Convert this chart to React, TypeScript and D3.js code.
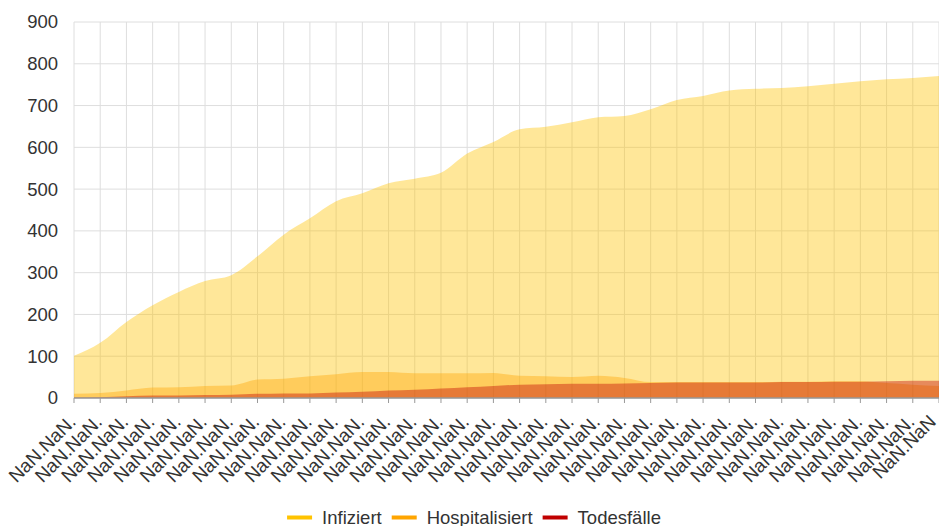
import React, { useEffect, useRef } from 'react';
import * as d3 from 'd3';

const width = 939;
const height = 526;

const infiziert = [101, 132, 182, 222, 254, 280, 294, 339, 391, 430, 471, 490, 514, 525, 539, 585, 613, 643, 649, 660, 672, 675, 691, 713, 723, 736, 740, 742, 746, 752, 758, 763, 766, 771];
const hospitalisiert = [10, 12, 18, 25, 26, 29, 30, 44, 46, 52, 57, 62, 62, 59, 59, 59, 60, 53, 52, 50, 53, 48, 38, 38, 38, 38, 38, 39, 39, 40, 40, 36, 32, 29];
const todesfaelle = [1, 2, 4, 6, 6, 7, 8, 10, 11, 11, 13, 15, 18, 20, 23, 26, 29, 32, 33, 34, 34, 35, 36, 37, 37, 37, 37, 38, 38, 39, 39, 40, 41, 41];
// the last label loses its trailing dot at the edge in the original
const dateLabels = infiziert.map((d, i) => (i === infiziert.length - 1 ? 'NaN.NaN' : 'NaN.NaN.'));
const yTicks = [0, 100, 200, 300, 400, 500, 600, 700, 800, 900];

const series = [
    { name: 'Infiziert', values: infiziert, color: '#ffc300' },
    { name: 'Hospitalisiert', values: hospitalisiert, color: '#ffa500' },
    { name: 'Todesfälle', values: todesfaelle, color: '#c00000' },
];

export default function App() {
    const ref = useRef<SVGSVGElement>(null);

    useEffect(() => {
        const svg = d3.select(ref.current);
        svg.selectAll('*').remove();

        const margin = { top: 22, right: 0, bottom: 128, left: 74 };
        const idx = d3.range(infiziert.length);

        const x = d3.scalePoint<number>()
            .domain(idx)
            .range([margin.left, width - margin.right]);
        const y = d3.scaleLinear()
            .domain([0, 900])
            .range([height - margin.bottom, margin.top]);

        const font = '"Liberation Sans", Arial, sans-serif';

        // grid
        const grid = svg.append('g');
        grid.selectAll('.h')
            .data(yTicks)
            .enter()
            .append('line')
            .attr('x1', margin.left)
            .attr('x2', width - margin.right)
            .attr('y1', d => y(d))
            .attr('y2', d => y(d))
            .attr('stroke', '#dedede')
            .attr('stroke-width', 1);
        grid.selectAll('.v')
            .data(idx)
            .enter()
            .append('line')
            .attr('x1', d => x(d)!)
            .attr('x2', d => x(d)!)
            .attr('y1', y(900))
            .attr('y2', y(0))
            .attr('stroke', '#dedede')
            .attr('stroke-width', 1);

        // areas, all drawn from zero, overlapping
        series.forEach(s => {
            const area = d3.area<number>()
                .curve(d3.curveMonotoneX)
                .x((d, i) => x(i)!)
                .y0(y(0))
                .y1(d => y(d));
            svg.append('path')
                .datum(s.values)
                .attr('d', area)
                .attr('fill', s.color)
                .attr('fill-opacity', 0.4);
        });

        // x axis
        svg.append('line')
            .attr('x1', margin.left)
            .attr('x2', width)
            .attr('y1', y(0))
            .attr('y2', y(0))
            .attr('stroke', '#999')
            .attr('stroke-width', 1.5);
        svg.selectAll('.tick')
            .data(idx)
            .enter()
            .append('line')
            .attr('x1', d => x(d)!)
            .attr('x2', d => x(d)!)
            .attr('y1', y(0))
            .attr('y2', y(0) + 5)
            .attr('stroke', '#999');

        svg.selectAll('.xl')
            .data(idx)
            .enter()
            .append('text')
            .attr('transform', d => 'translate(' + Math.min(x(d)! + 3, 937) + ',' + (y(0) + 25) + ') rotate(-45)')
            .attr('text-anchor', 'end')
            .attr('font-family', font)
            .attr('font-size', 18.8)
            .attr('fill', '#333')
            .text(d => dateLabels[d]);

        // y labels
        svg.selectAll('.yl')
            .data(yTicks)
            .enter()
            .append('text')
            .attr('x', 58)
            .attr('y', d => y(d))
            .attr('dy', '0.35em')
            .attr('text-anchor', 'end')
            .attr('font-family', font)
            .attr('font-size', 18.5)
            .attr('fill', '#333')
            .text(d => d);

        // legend
        const legend = svg.append('g');
        let cx = 0;
        series.forEach(s => {
            const g = legend.append('g').attr('transform', 'translate(' + cx + ',0)');
            g.append('line')
                .attr('x1', 0)
                .attr('x2', 25)
                .attr('y1', 517.5)
                .attr('y2', 517.5)
                .attr('stroke', s.color)
                .attr('stroke-width', 4);
            const t = g.append('text')
                .attr('x', 35)
                .attr('y', 523.5)
                .attr('font-family', font)
                .attr('font-size', 18.5)
                .attr('fill', '#333')
                .text(s.name);
            const w = (t.node() as SVGTextElement).getComputedTextLength();
            cx += 35 + w + 10;
        });
        const total = cx - 10;
        legend.attr('transform', 'translate(' + (474 - total / 2) + ',0)');
    }, []);

    return (
        <svg ref={ref} width={width} height={height} style={{ position: 'absolute', left: 0, top: 0 }} />
    );
}
